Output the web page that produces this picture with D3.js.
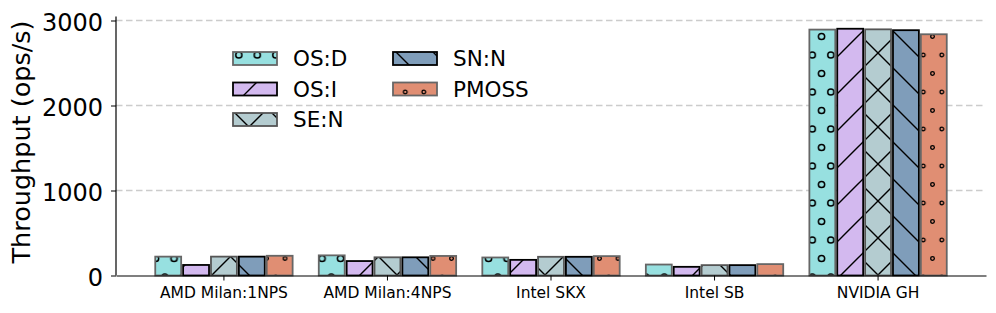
<!DOCTYPE html>
<html>
<head>
<meta charset="utf-8">
<script src="https://cdn.jsdelivr.net/npm/d3@7"></script>
<style>
  body { margin: 0; background: #fff; }
  svg { display: block; font-family: "DejaVu Sans", sans-serif; }
</style>
</head>
<body>
<div id="chart"></div>
<script>
// dados
const categories = ["AMD Milan:1NPS", "AMD Milan:4NPS", "Intel SKX", "Intel SB", "NVIDIA GH"];
const series = ["OS:D", "OS:I", "SE:N", "SN:N", "PMOSS"];
const osD = [222, 237, 212, 129, 2893];
const osI = [124, 170, 184, 102, 2903];
const seN = [222, 214, 220, 122, 2896];
const snN = [222, 214, 220, 122, 2886];
const pmoss = [232, 230, 228, 134, 2838];
const yTicks = [0, 1000, 2000, 3000];

const values = [osD, osI, seN, snN, pmoss];
const fills = ["#97e0e0", "#d3b9ef", "#b4ccd0", "#7f9dba", "#e08e73"];
const edges = ["#666", "#000", "#555", "#000", "#666"];
const hatches = ["o", "/", "x", "\\", "."];

const width = 996, height = 313;
const margin = { left: 116, right: 10, top: 16.5, bottom: 37.5 };

const svg = d3.select("#chart").append("svg")
    .attr("width", width)
    .attr("height", height);

// padrões de hachura (ancorados no espaço da figura, sem transform nos grupos)
const defs = svg.append("defs");
const P = 37;
function linePattern(id, fill, dirs) {
    const p = defs.append("pattern")
        .attr("id", id)
        .attr("patternUnits", "userSpaceOnUse")
        .attr("x", -10).attr("y", 16)
        .attr("width", P).attr("height", P);
    p.append("rect").attr("width", P).attr("height", P).attr("fill", fill);
    let d = "";
    if (dirs.includes("/")) d += `M${-P/2},${P/2}L${P/2},${-P/2}M0,${P}L${P},0M${P/2},${1.5*P}L${1.5*P},${P/2}`;
    if (dirs.includes("\\")) d += `M${-P/2},${P/2}L${P/2},${1.5*P}M0,0L${P},${P}M${P/2},${-P/2}L${1.5*P},${P/2}`;
    p.append("path").attr("d", d).attr("stroke", "#000").attr("stroke-width", 1.4).attr("fill", "none");
}
function circlePattern(id, fill, r, sw) {
    const w = P / 2, h = P;
    const p = defs.append("pattern")
        .attr("id", id)
        .attr("patternUnits", "userSpaceOnUse")
        .attr("x", 16.8).attr("y", 18)
        .attr("width", w).attr("height", h);
    p.append("rect").attr("width", w).attr("height", h).attr("fill", fill);
    const pts = [[0, 0], [w, 0], [0, h], [w, h], [w / 2, h / 2]];
    p.selectAll("circle").data(pts).enter().append("circle")
        .attr("cx", d => d[0]).attr("cy", d => d[1]).attr("r", r)
        .attr("fill", "none").attr("stroke", "#000").attr("stroke-width", sw);
}
hatches.forEach((h, i) => {
    const id = "hatch" + i;
    if (h === "o") circlePattern(id, fills[i], 3.1, 1.5);
    else if (h === ".") circlePattern(id, fills[i], 1.8, 1.3);
    else if (h === "x") linePattern(id, fills[i], "/\\");
    else linePattern(id, fills[i], h);
});

const x0 = d3.scaleBand()
    .domain(categories)
    .range([margin.left, width - margin.right])
    .paddingInner(0)
    .paddingOuter(0.16);

const x1 = d3.scaleBand()
    .domain(series)
    .range([-0.42 * x0.step(), 0.42 * x0.step()])
    .paddingInner(0.07);

const y = d3.scaleLinear()
    .domain([0, 3000])
    .range([275.5, 20.5]);

// grade tracejada
svg.append("g")
    .selectAll("line")
    .data(yTicks.filter(t => t > 0))
    .enter().append("line")
    .attr("x1", margin.left).attr("x2", width - margin.right)
    .attr("y1", d => y(d)).attr("y2", d => y(d))
    .attr("stroke", "#cccccc")
    .attr("stroke-width", 1.5)
    .attr("stroke-dasharray", "6.5,3.5");

// barras (coordenadas absolutas para a hachura ficar alinhada)
const bars = [];
categories.forEach((c, ci) => {
    series.forEach((s, si) => bars.push({ c, s, si, v: values[si][ci] }));
});
svg.append("g")
    .selectAll("rect")
    .data(bars)
    .enter().append("rect")
    .attr("x", d => x0(d.c) + x0.bandwidth() / 2 + x1(d.s))
    .attr("y", d => y(d.v))
    .attr("width", x1.bandwidth())
    .attr("height", d => y(0) - y(d.v))
    .attr("fill", d => `url(#hatch${d.si})`)
    .attr("stroke", d => edges[d.si])
    .attr("stroke-width", 1.8);

// eixos
const xAxis = svg.append("g")
    .attr("transform", `translate(0,${y(0)})`)
    .call(d3.axisBottom(x0).tickSize(5).tickSizeOuter(0).tickPadding(6));
xAxis.select(".domain").attr("stroke-width", 1.2);
xAxis.selectAll("text").attr("font-size", 15.5).attr("font-family", "DejaVu Sans").attr("fill", "#000");

const yAxis = svg.append("g")
    .attr("transform", `translate(${margin.left},0)`)
    .call(d3.axisLeft(y).tickValues(yTicks).tickFormat(d3.format("d")).tickSize(5).tickPadding(8));
yAxis.select(".domain").attr("d", `M0,${margin.top}V${y(0)}`).attr("stroke-width", 1.2);
yAxis.selectAll("text")
    .attr("font-size", 24)
    .attr("dy", "0.42em")
    .attr("font-family", "DejaVu Sans")
    .attr("fill", "#000");

svg.append("text")
    .attr("transform", "translate(30,263.5) rotate(-90)")
    .attr("text-anchor", "start")
    .attr("font-size", 25.5)
    .text("Throughput (ops/s)");

// legenda
const legendX = [233, 233, 233, 393, 393];
const legendRow = [0, 1, 2, 0, 1];
const ly = i => 58.5 + 30.5 * legendRow[i];
const legend = svg.append("g");
legend.selectAll("rect")
    .data(series)
    .enter().append("rect")
    .attr("x", (d, i) => legendX[i])
    .attr("y", (d, i) => ly(i) - 6.5)
    .attr("width", 44).attr("height", 13)
    .attr("fill", (d, i) => `url(#hatch${i})`)
    .attr("stroke", (d, i) => edges[i])
    .attr("stroke-width", 1.8);
legend.selectAll("text")
    .data(series)
    .enter().append("text")
    .attr("x", (d, i) => legendX[i] + 60)
    .attr("y", (d, i) => ly(i))
    .attr("dy", "0.36em")
    .attr("font-size", 21.5)
    .text(d => d);
</script>
</body>
</html>
